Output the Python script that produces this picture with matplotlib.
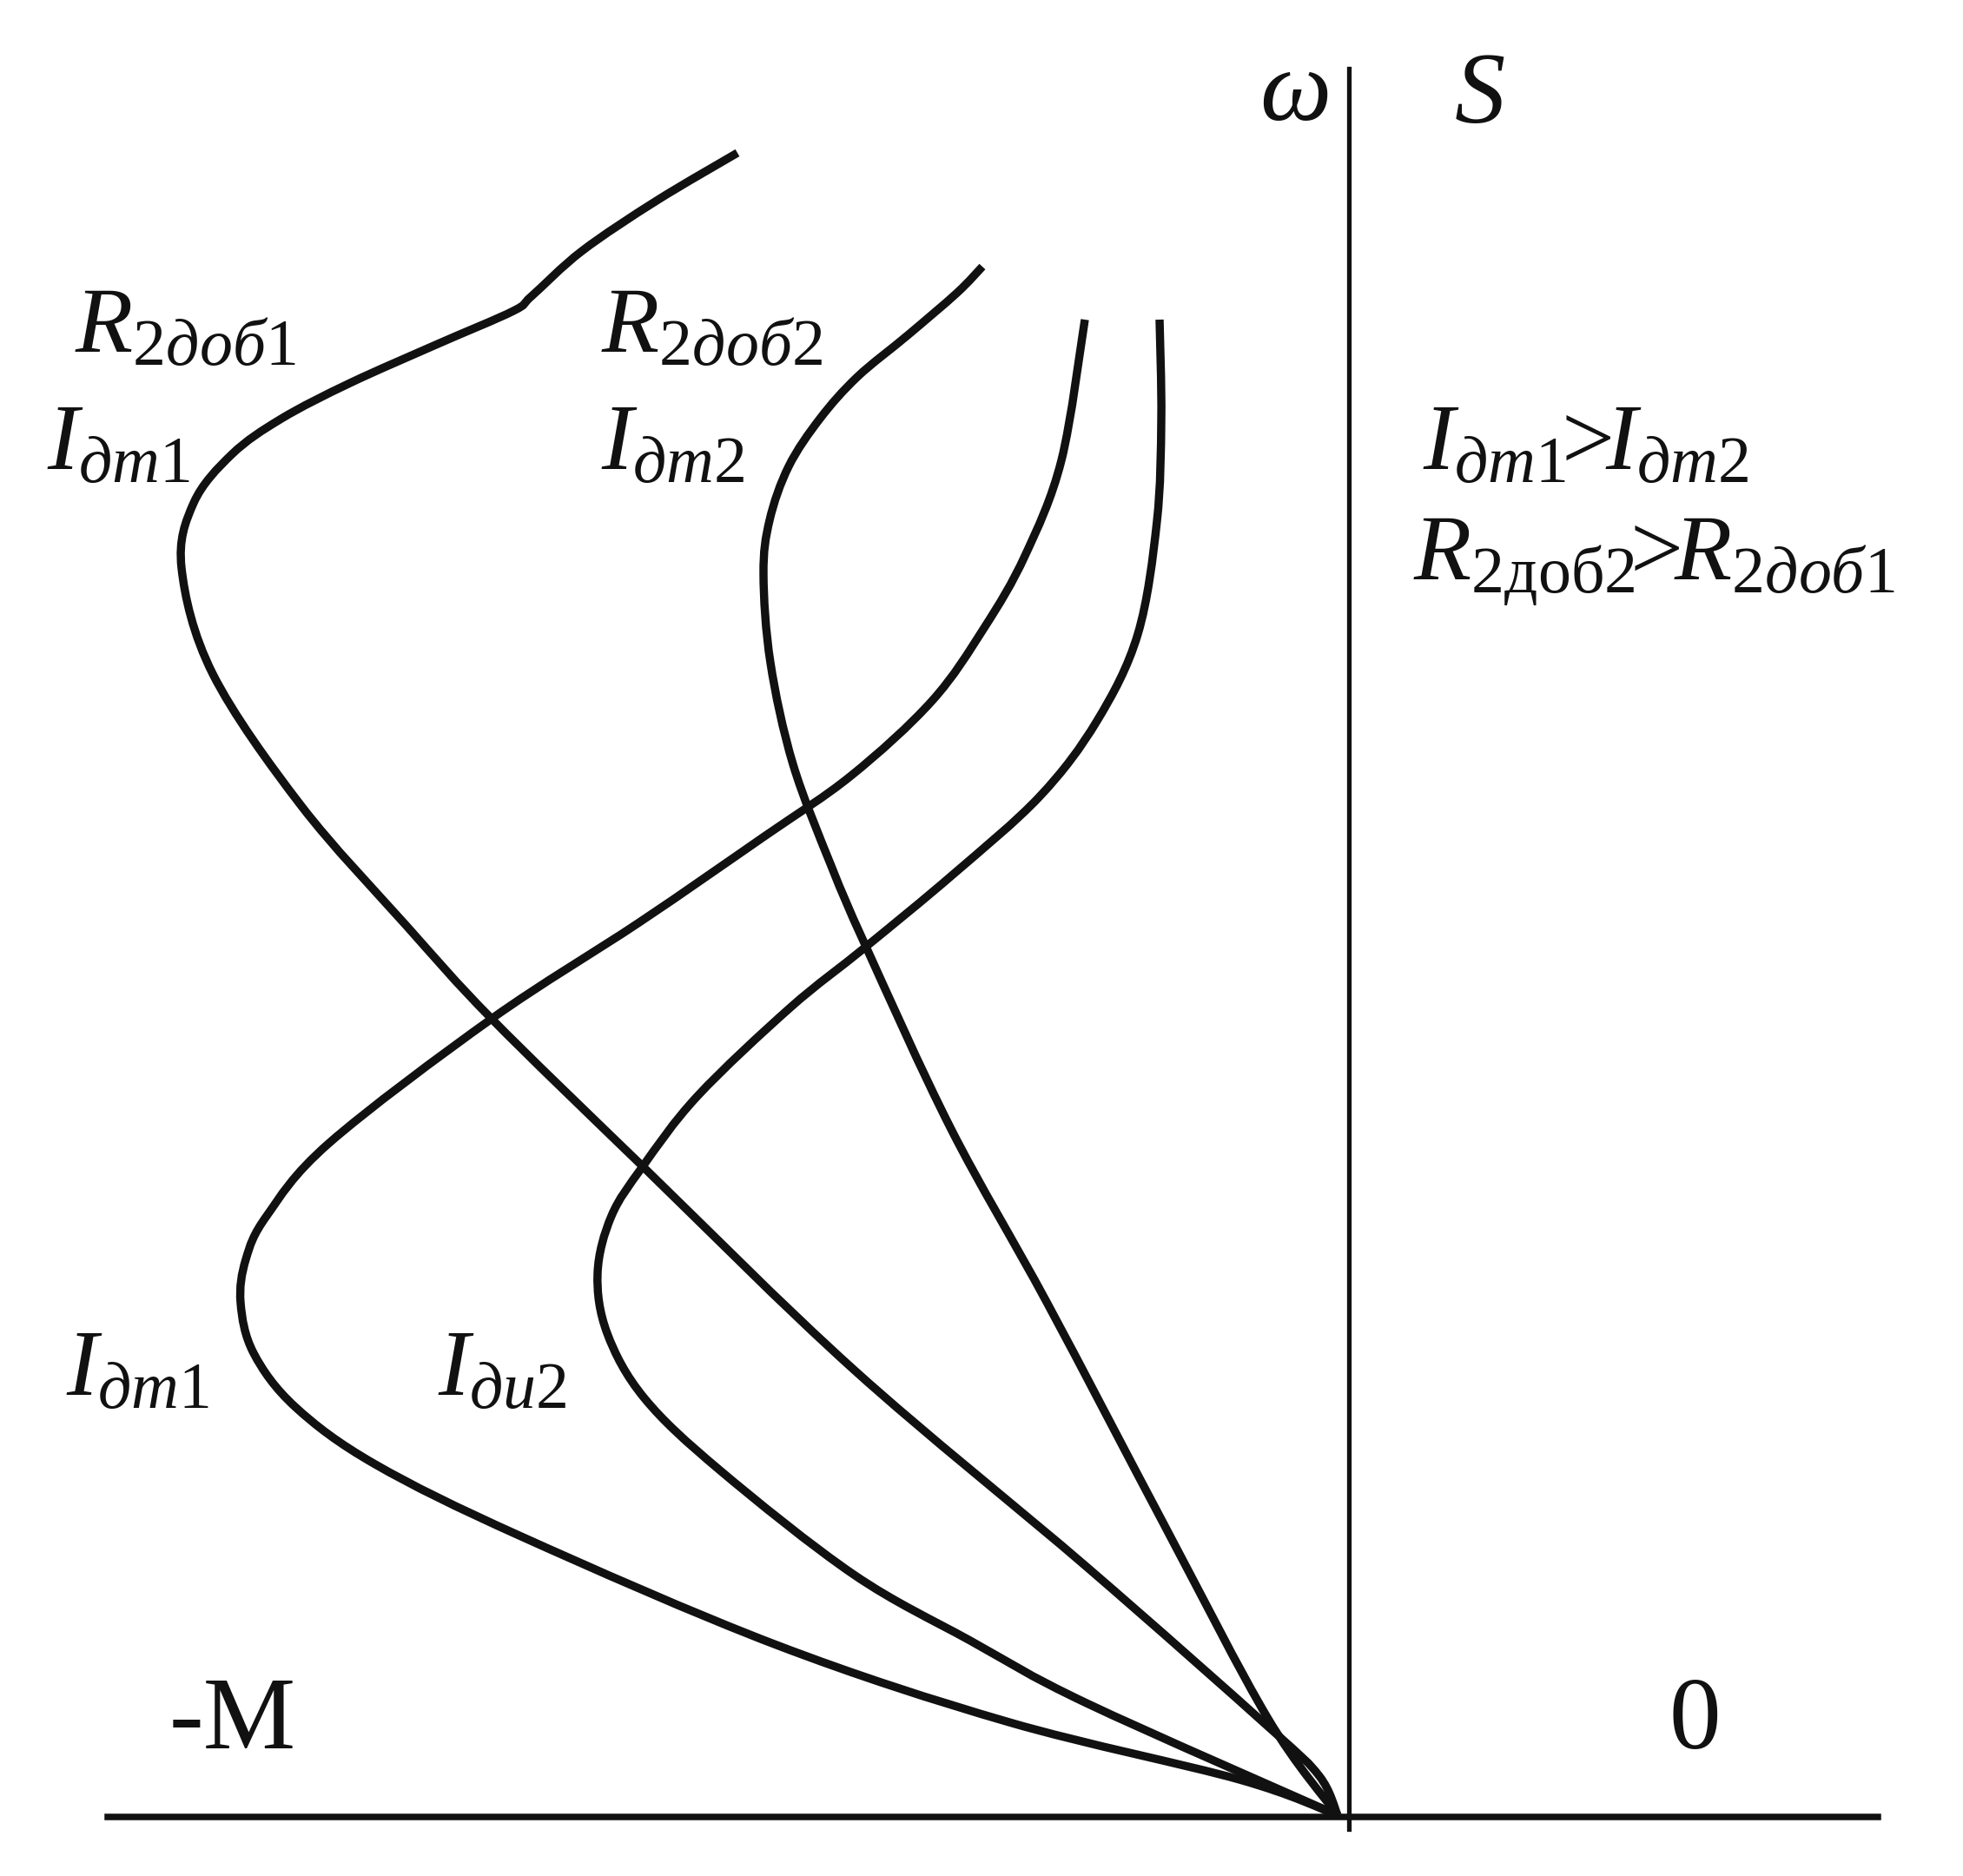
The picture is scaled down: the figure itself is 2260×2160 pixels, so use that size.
import numpy as np
import matplotlib
matplotlib.use("Agg")
import matplotlib.pyplot as plt
from matplotlib.path import Path
from matplotlib.patches import PathPatch

# Значения: x = момент M (влево отрицательный), y = скорость ω
# кривая момента при R2доб1
m_r1 = [-704, -797, -883, -941, -962, -1049, -1150, -1229, -1286, -1330, -1344,
        -1308, -1206, -1085, -987, -813, -570, -302, -93, -34, -13]
w_r1 = [1916, 1861, 1803, 1751, 1734, 1696, 1651, 1610, 1569, 1513, 1438,
        1316, 1164, 1026, 919, 749, 515, 288, 104, 47, 2]

# кривая момента при R2доб2
m_r2 = [-422, -451, -508, -566, -609, -645, -667, -674, -666, -640, -596, -556,
        -458, -347, -213, -93, -13]
w_r2 = [1785, 1755, 1706, 1658, 1610, 1555, 1493, 1431, 1329, 1212, 1095, 1002,
        792, 591, 337, 113, 2]

# кривая при токе Iдт1
m_i1 = [-304, -331, -373, -420, -480, -573, -673, -817, -987, -1174, -1246, -1270,
        -1276, -1261, -1213, -1121, -953, -659, -391, -126, -13]
w_i1 = [1724, 1562, 1452, 1369, 1285, 1199, 1129, 1030, 919, 776, 692, 642,
        592, 534, 472, 406, 323, 198, 109, 43, 2]

# кривая при токе Iдт2
m_i2 = [-218, -216, -221, -243, -290, -356, -456, -556, -643, -750, -813, -849,
        -865, -854, -811, -724, -570, -436, -302, -13]
w_i2 = [1724, 1610, 1492, 1362, 1262, 1175, 1085, 1002, 932, 830, 749, 692,
        626, 557, 482, 399, 279, 203, 131, 2]

plt.rcParams['font.family'] = ['Liberation Serif', 'DejaVu Serif']
plt.rcParams['mathtext.fontset'] = 'custom'
plt.rcParams['mathtext.rm'] = 'Liberation Serif'
plt.rcParams['mathtext.it'] = 'Liberation Serif:italic'
plt.rcParams['mathtext.bf'] = 'Liberation Serif:bold'

ink = '#111111'


def smooth_path(xs, ys):
    """Кривая Безье через точки (Catmull-Rom -> кубические сегменты)"""
    p = np.column_stack([xs, ys]).astype(float)
    verts = [p[0]]
    codes = [Path.MOVETO]
    n = len(p)
    for i in range(n - 1):
        p0 = p[i - 1] if i > 0 else p[i]
        p1 = p[i]
        p2 = p[i + 1]
        p3 = p[i + 2] if i + 2 < n else p[i + 1]
        c1 = p1 + (p2 - p0) / 6.0
        c2 = p2 - (p3 - p1) / 6.0
        verts += [c1, c2, p2]
        codes += [Path.CURVE4] * 3
    return Path(verts, codes)


fig = plt.figure(figsize=(22.6, 21.6), dpi=100)
ax = fig.add_axes([0, 0, 1, 1])
ax.set_xlim(-1553, 707)
ax.set_ylim(-68, 2092)

for m, w in [(m_r1, w_r1), (m_r2, w_r2), (m_i1, w_i1), (m_i2, w_i2)]:
    ax.add_patch(PathPatch(smooth_path(m, w), fill=False, edgecolor=ink,
                           lw=6.8, joinstyle='round', capstyle='butt'))

# оси координат через спайны
ax.spines['left'].set_position(('data', 0))
ax.spines['bottom'].set_position(('data', 0))
ax.spines['left'].set_bounds(-14, 2013)
ax.spines['bottom'].set_bounds(-1429, 609)
ax.spines['left'].set_linewidth(3.8)
ax.spines['bottom'].set_linewidth(5.4)
ax.spines['left'].set_color(ink)
ax.spines['bottom'].set_color(ink)
ax.spines['top'].set_visible(False)
ax.spines['right'].set_visible(False)
ax.set_xticks([])
ax.set_yticks([])

kw = dict(fontsize=78, color=ink, ha='left', va='baseline')

ax.text(-1467, 1686, r'$R_{2доб1}$', **kw)
ax.text(-1499, 1551, r'$I_{дт1}$', **kw)
ax.text(-861, 1686, r'$R_{2доб2}$', **kw)
ax.text(-861, 1551, r'$I_{дт2}$', **kw)

ax.text(-1477, 485, r'$I_{дт1}$', **kw)
ax.text(-1049, 485, r'$I_{ди2}$', **kw)

ax.text(85, 1551, r'$I_{дт1}\!\!>\!\!I_{дт2}$', **kw)
ax.text(74, 1424, r'$R_{\mathrm{2доб2}}\!\!>\!\!R_{2доб1}$', **kw)

ax.text(-103, 1954, r'$\omega$', fontsize=84, color=ink, ha='left', va='baseline')
ax.text(121, 1951, r'$S$', fontsize=84, color=ink, ha='left', va='baseline')

ax.text(-1358, 79, '-M', fontsize=86, color=ink, ha='left', va='baseline')
ax.text(368, 79, '0', fontsize=86, color=ink, ha='left', va='baseline')

fig.savefig('out.png', dpi=100, facecolor='white')
